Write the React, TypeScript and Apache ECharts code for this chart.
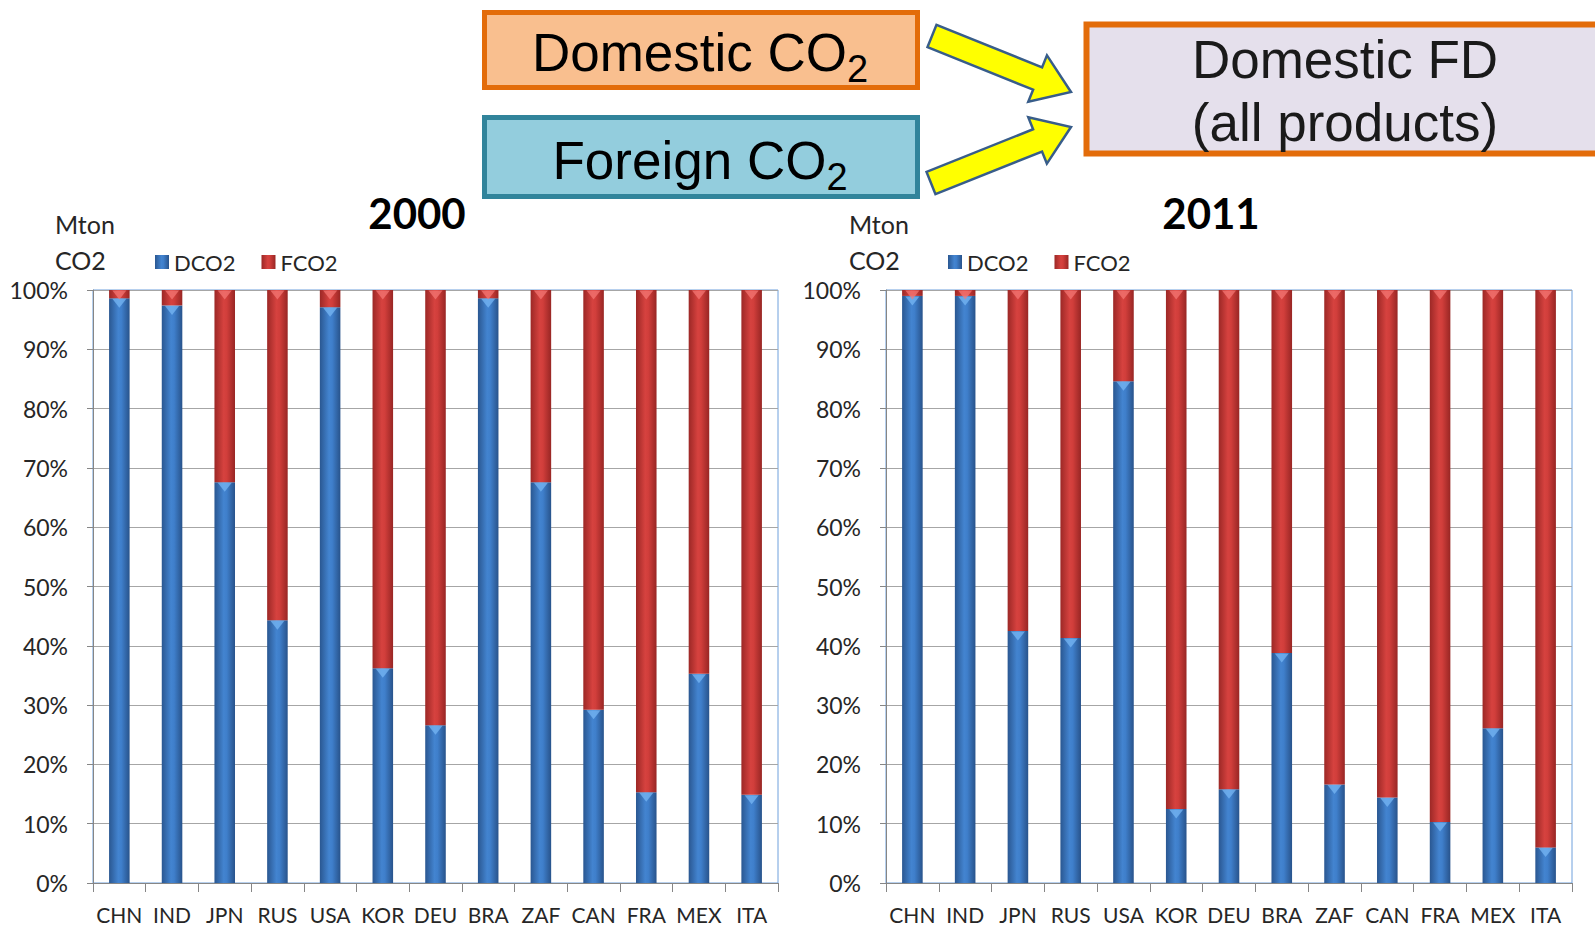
import React, { useEffect, useRef } from "react";
import * as echarts from "echarts";

const categories = ["CHN", "IND", "JPN", "RUS", "USA", "KOR", "DEU", "BRA", "ZAF", "CAN", "FRA", "MEX", "ITA"];
const dco2_2000 = [98.6, 97.4, 67.6, 44.3, 97.1, 36.2, 26.6, 98.6, 67.6, 29.2, 15.3, 35.3, 14.9];
const fco2_2000 = [1.4, 2.6, 32.4, 55.7, 2.9, 63.8, 73.4, 1.4, 32.4, 70.8, 84.7, 64.7, 85.1];
const dco2_2011 = [99.0, 99.0, 42.5, 41.3, 84.6, 12.5, 15.8, 38.8, 16.6, 14.4, 10.3, 26.1, 6.0];
const fco2_2011 = [1.0, 1.0, 57.5, 58.7, 15.4, 87.5, 84.2, 61.2, 83.4, 85.6, 89.7, 73.9, 94.0];
const yTicks = [0, 10, 20, 30, 40, 50, 60, 70, 80, 90, 100];

const FONT = "Lato, 'Open Sans', sans-serif";
const ARIAL = "'Liberation Sans', Arial, sans-serif";

function arrow(x0: number, y0: number, x1: number, y1: number, s: number, h: number, hl: number) {
  const dx = x1 - x0, dy = y1 - y0;
  const L = Math.sqrt(dx * dx + dy * dy);
  const ux = dx / L, uy = dy / L;
  const nx = -uy, ny = ux;
  const bx = x1 - ux * hl, by = y1 - uy * hl;
  return [
    [x0 + nx * s, y0 + ny * s],
    [bx + nx * s, by + ny * s],
    [bx + nx * h, by + ny * h],
    [x1, y1],
    [bx - nx * h, by - ny * h],
    [bx - nx * s, by - ny * s],
    [x0 - nx * s, y0 - ny * s],
  ];
}

const blueGrad = () =>
  new echarts.graphic.LinearGradient(0, 0, 1, 0, [
    { offset: 0, color: "#2a5791" },
    { offset: 0.45, color: "#4384d0" },
    { offset: 0.6, color: "#3f7fcb" },
    { offset: 1, color: "#28538b" },
  ]);
const redGrad = () =>
  new echarts.graphic.LinearGradient(0, 0, 1, 0, [
    { offset: 0, color: "#9c2826" },
    { offset: 0.45, color: "#d6423f" },
    { offset: 0.6, color: "#d13e3b" },
    { offset: 1, color: "#982624" },
  ]);

export default function App() {
  const ref = useRef<HTMLDivElement>(null);
  useEffect(() => {
    if (!ref.current) return;
    const chart = echarts.init(ref.current, undefined, { renderer: "svg" });
    const grids = [
      { left: 93, top: 290, width: 685, height: 593 },
      { left: 886, top: 290, width: 686, height: 593 },
    ];
    const xAxis = [0, 1].map((i) => ({
      type: "category",
      gridIndex: i,
      data: categories,
      axisLine: { lineStyle: { color: "#868686", width: 1 } },
      axisTick: { show: true, length: 9, lineStyle: { color: "#868686" } },
      axisLabel: { fontFamily: FONT, fontSize: 21, color: "#262626", margin: 21, interval: 0 },
    }));
    const yAxis = [0, 1].map((i) => ({
      type: "value",
      gridIndex: i,
      min: yTicks[0],
      max: yTicks[yTicks.length - 1],
      interval: 10,
      axisLine: { show: true, lineStyle: { color: "#868686" } },
      axisTick: { show: true, length: 6, lineStyle: { color: "#868686" } },
      axisLabel: { fontFamily: FONT, fontSize: 23, color: "#262626", margin: 25, formatter: "{value}%" },
      splitLine: { show: true, lineStyle: { color: "#a6a6a6", width: 1.2 } },
    }));
    const mk = (name: string, data: number[], idx: number, stack: string, grad: any) => ({
      name,
      type: "bar",
      stack,
      xAxisIndex: idx,
      yAxisIndex: idx,
      data,
      barWidth: "39%",
      itemStyle: { color: grad() },
    });
    // small highlight triangles at the top of each bar segment (3D look)
    const tri = (tops: number[], idx: number, color: string) => ({
      type: "scatter",
      xAxisIndex: idx,
      yAxisIndex: idx,
      data: tops,
      symbol: "triangle",
      symbolRotate: 180,
      symbolSize: [14, 9],
      symbolOffset: [0, 5],
      itemStyle: { color },
      silent: true,
      z: 3,
    });
    const tops = (d: number[], f: number[]) => d.map((v, i) => v + f[i]);
    const arrow1 = arrow(932, 36, 1071, 92, 12, 25, 36);
    const arrow2 = arrow(931, 183, 1071, 127, 12, 25, 36);
    const legendCommon = {
      icon: "rect",
      itemWidth: 14,
      itemHeight: 14,
      itemGap: 26,
      textStyle: { fontFamily: FONT, fontSize: 22, color: "#262626" },
      data: ["DCO2", "FCO2"],
    };
    chart.setOption({
      animation: false,
      backgroundColor: "#ffffff",
      grid: grids.map((g) => ({ ...g, show: true, borderColor: "#6fa0dc", borderWidth: 1, backgroundColor: "transparent" })),
      xAxis,
      yAxis,
      legend: [
        { ...legendCommon, left: 150, top: 246 },
        { ...legendCommon, left: 943, top: 246 },
      ],
      title: [
        { text: "2000", left: 412, top: 187, textAlign: "center", textStyle: { fontFamily: FONT, fontSize: 42, fontWeight: "bold", color: "#000" } },
        { text: "2011", left: 1206, top: 187, textAlign: "center", textStyle: { fontFamily: FONT, fontSize: 42, fontWeight: "bold", color: "#000" } },
      ],
      series: [
        mk("DCO2", dco2_2000, 0, "a", blueGrad),
        mk("FCO2", fco2_2000, 0, "a", redGrad),
        mk("DCO2", dco2_2011, 1, "b", blueGrad),
        mk("FCO2", fco2_2011, 1, "b", redGrad),
        tri(dco2_2000, 0, "rgba(120,185,245,0.9)"),
        tri(tops(dco2_2000, fco2_2000), 0, "rgba(245,120,118,0.9)"),
        tri(dco2_2011, 1, "rgba(120,185,245,0.9)"),
        tri(tops(dco2_2011, fco2_2011), 1, "rgba(245,120,118,0.9)"),
      ],
      graphic: [
        { type: "text", left: 55, top: 211, style: { text: "Mton", font: `25px ${FONT}`, fill: "#262626" } },
        { type: "text", left: 55, top: 247, style: { text: "CO2", font: `25px ${FONT}`, fill: "#262626" } },
        { type: "text", left: 849, top: 211, style: { text: "Mton", font: `25px ${FONT}`, fill: "#262626" } },
        { type: "text", left: 849, top: 247, style: { text: "CO2", font: `25px ${FONT}`, fill: "#262626" } },
        {
          type: "rect",
          shape: { x: 484.5, y: 12.5, width: 433, height: 75 },
          style: { fill: "#f9bf8f", stroke: "#e36c0a", lineWidth: 5 },
        },
        {
          type: "text",
          x: 700,
          y: 52,
          style: {
            text: "{a|Domestic CO}{s|2}",
            align: "center",
            verticalAlign: "middle",
            rich: {
              a: { fontFamily: ARIAL, fontSize: 53, color: "#1a1a1a" },
              s: { fontFamily: ARIAL, fontSize: 38, color: "#1a1a1a", padding: [34, 0, 0, 0] },
            },
          },
        },
        {
          type: "rect",
          shape: { x: 484.5, y: 117.5, width: 433, height: 79 },
          style: { fill: "#93cddd", stroke: "#31849b", lineWidth: 5 },
        },
        {
          type: "text",
          x: 700,
          y: 160,
          style: {
            text: "{a|Foreign CO}{s|2}",
            align: "center",
            verticalAlign: "middle",
            rich: {
              a: { fontFamily: ARIAL, fontSize: 53, color: "#1a1a1a" },
              s: { fontFamily: ARIAL, fontSize: 38, color: "#1a1a1a", padding: [34, 0, 0, 0] },
            },
          },
        },
        {
          type: "rect",
          shape: { x: 1086.5, y: 24.5, width: 540, height: 129 },
          style: { fill: "#e5e0ec", stroke: "#e36c0a", lineWidth: 6 },
        },
        {
          type: "text",
          x: 1345,
          y: 91,
          style: {
            text: "Domestic FD\n(all products)",
            align: "center",
            verticalAlign: "middle",
            font: `53px ${ARIAL}`,
            lineHeight: 63,
            fill: "#1a1a1a",
          },
        },
        { type: "polygon", shape: { points: arrow1 }, style: { fill: "#ffff00", stroke: "#385d8a", lineWidth: 2.5 } },
        { type: "polygon", shape: { points: arrow2 }, style: { fill: "#ffff00", stroke: "#385d8a", lineWidth: 2.5 } },
      ],
    });
    return () => chart.dispose();
  }, []);
  return <div ref={ref} style={{ position: "fixed", left: 0, top: 0, width: 1595, height: 930 }} />;
}
